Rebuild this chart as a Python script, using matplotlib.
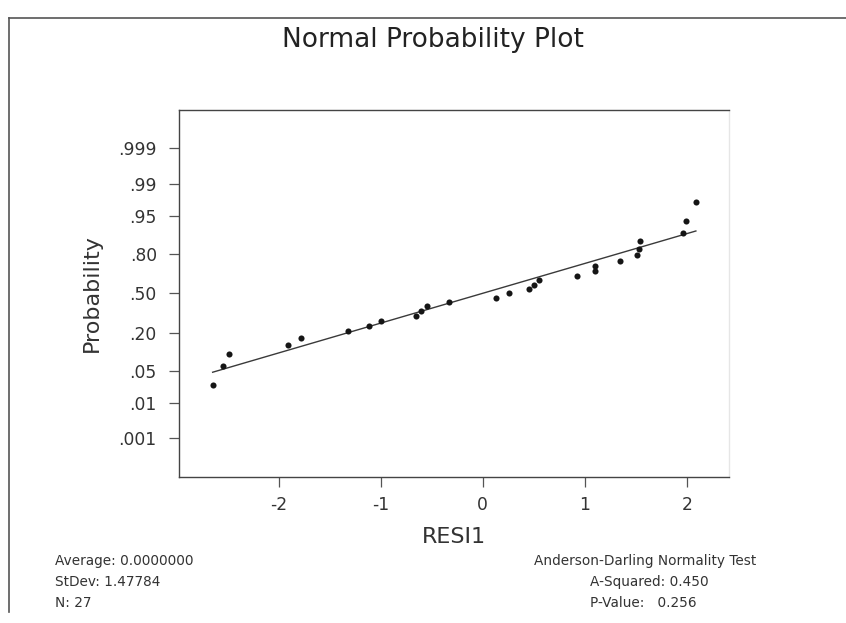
import numpy as np
import matplotlib
matplotlib.use("Agg")
import matplotlib.pyplot as plt
from math import erf, sqrt

# ---- data ----
resid = [-2.65, -2.55, -2.49, -1.91, -1.78, -1.32, -1.12, -1.00, -0.657, -0.61,
         -0.546, -0.33, 0.125, 0.26, 0.454, 0.50, 0.55, 0.92, 1.10, 1.10,
         1.35, 1.51, 1.53, 1.54, 1.96, 1.99, 2.09]
prob = [0.0255, 0.0620, 0.0985, 0.1350, 0.1715, 0.2080, 0.2445, 0.2810, 0.3175,
        0.3540, 0.3905, 0.4270, 0.4635, 0.5000, 0.5365, 0.5730, 0.6095, 0.6460,
        0.6825, 0.7190, 0.7555, 0.7920, 0.8285, 0.8650, 0.9015, 0.9380, 0.9745]
ytick_probs = [0.001, 0.01, 0.05, 0.20, 0.50, 0.80, 0.95, 0.99, 0.999]
ytick_labels = [".001", ".01", ".05", ".20", ".50", ".80", ".95", ".99", ".999"]
xticks = [-2, -1, 0, 1, 2]
stats_left = ["Average: 0.0000000", "StDev: 1.47784", "N: 27"]
stats_right_title = "Anderson-Darling Normality Test"
stats_right = ["A-Squared: 0.450", "P-Value:   0.256"]

# ---- normal probability scale ----
def ppf(p):
    p = np.clip(np.asarray(p, dtype=float), 1e-12, 1 - 1e-12)
    a = [-3.969683028665376e+01, 2.209460984245205e+02, -2.759285104469687e+02,
         1.383577518672690e+02, -3.066479806614716e+01, 2.506628277459239e+00]
    b = [-5.447609879822406e+01, 1.615858368580409e+02, -1.556989798598866e+02,
         6.680131188771972e+01, -1.328068155288572e+01]
    c = [-7.784894002430293e-03, -3.223964580411365e-01, -2.400758277161838e+00,
         -2.549732539343734e+00, 4.374664141464968e+00, 2.938163982698783e+00]
    d = [7.784695709041462e-03, 3.224671290700398e-01, 2.445134137142996e+00,
         3.754408661907416e+00]
    plow = 0.02425
    out = np.empty_like(p)
    lo = p < plow
    hi = p > 1 - plow
    mid = ~(lo | hi)
    q = np.sqrt(-2 * np.log(p[lo]))
    out[lo] = (((((c[0]*q+c[1])*q+c[2])*q+c[3])*q+c[4])*q+c[5]) / \
              ((((d[0]*q+d[1])*q+d[2])*q+d[3])*q+1)
    q = np.sqrt(-2 * np.log(1 - p[hi]))
    out[hi] = -(((((c[0]*q+c[1])*q+c[2])*q+c[3])*q+c[4])*q+c[5]) / \
               ((((d[0]*q+d[1])*q+d[2])*q+d[3])*q+1)
    q = p[mid] - 0.5
    r = q * q
    out[mid] = (((((a[0]*r+a[1])*r+a[2])*r+a[3])*r+a[4])*r+a[5])*q / \
               (((((b[0]*r+b[1])*r+b[2])*r+b[3])*r+b[4])*r+1)
    return out

_verf = np.vectorize(erf)
def cdf(z):
    z = np.asarray(z, dtype=float)
    return 0.5 * (1 + _verf(z / sqrt(2)))

W, H = 846, 623
fig = plt.figure(figsize=(W / 100, H / 100), dpi=100)
fig.patch.set_facecolor("white")

def fx(px):
    return px / W

def fy(py):
    return 1 - py / H

ax = fig.add_axes([fx(179), fy(477), fx(728.5) - fx(179), fy(109.5) - fy(477)])
ax.set_yscale("function", functions=(ppf, cdf))

x = np.array(resid)
p = np.array(prob)
ax.plot(x, p, "o", color="#151515", markersize=4.4, markeredgewidth=0, zorder=3)

# least-squares fit line in the normal-score space
slope, intercept = np.polyfit(x, ppf(p), 1)
xl = np.array([x.min(), x.max()])
ax.plot(xl, cdf(slope * xl + intercept), color="#3a3a3a", lw=1.0, zorder=2)

ax.set_xlim(-2.98, 2.41)
ax.set_ylim(cdf(-3.91), cdf(3.91))
ax.set_yticks(ytick_probs)
ax.set_yticklabels(ytick_labels)
ax.set_xticks(xticks)
ax.set_xticklabels([str(t) for t in xticks])
ax.yaxis.set_minor_locator(matplotlib.ticker.NullLocator())
ax.xaxis.set_minor_locator(matplotlib.ticker.NullLocator())

ax.tick_params(axis="y", direction="out", length=7, width=0.9, color="#555555",
               pad=9, labelsize=12.3, labelcolor="#333333")
ax.tick_params(axis="x", direction="out", length=7, width=0.9, color="#555555",
               pad=7, labelsize=12.3, labelcolor="#333333")
for s in ["left", "bottom", "top"]:
    ax.spines[s].set_color("#444444")
    ax.spines[s].set_linewidth(1.0)
ax.spines["right"].set_color("#e6e6e6")
ax.spines["right"].set_linewidth(1.0)

ax.set_xlabel("RESI1", fontsize=16, color="#333333", labelpad=9)
ax.set_ylabel("Probability", fontsize=16, color="#333333", labelpad=12)

# title
fig.text(fx(433), fy(40), "Normal Probability Plot", ha="center", va="center",
         fontsize=19, color="#222222")

# stats text
for i, t in enumerate(stats_left):
    fig.text(fx(55), fy(561 + 20.8 * i), t, ha="left", va="center",
             fontsize=9.8, color="#333333")
fig.text(fx(534), fy(561), stats_right_title, ha="left", va="center",
         fontsize=9.8, color="#333333")
for i, t in enumerate(stats_right):
    fig.text(fx(590), fy(582 + 20.8 * i), t, ha="left", va="center",
             fontsize=9.8, color="#333333")

# outer frame lines (scanned page border)
fig.add_artist(plt.Line2D([fx(9), fx(9)], [fy(18), fy(612)], color="#555555",
                          lw=1.2, transform=fig.transFigure))
fig.add_artist(plt.Line2D([fx(9), fx(846)], [fy(18), fy(18)], color="#555555",
                          lw=1.2, transform=fig.transFigure))

fig.savefig("out.png", dpi=100, facecolor="white")
